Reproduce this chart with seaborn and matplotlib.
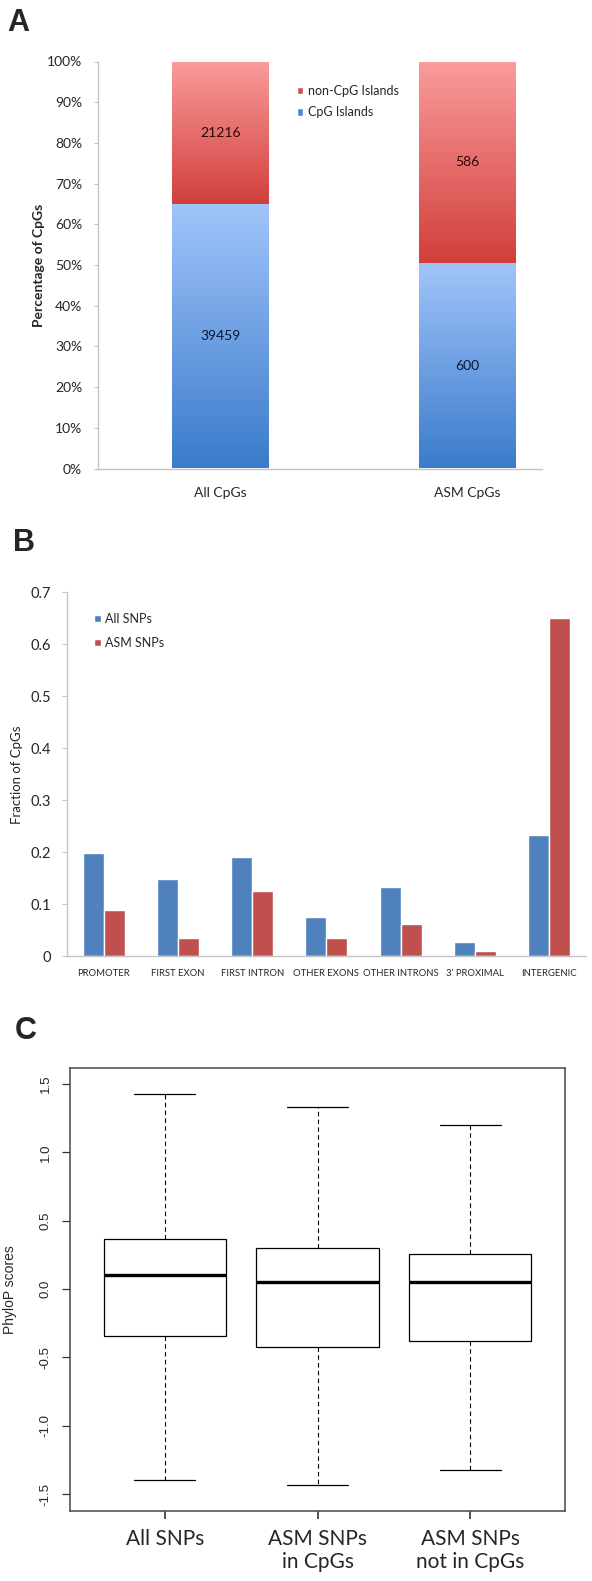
import matplotlib
matplotlib.use("Agg")
import matplotlib.pyplot as plt
import numpy as np
import pandas as pd
import seaborn as sns
from matplotlib.colors import LinearSegmentedColormap
from matplotlib.patches import Patch

# ---- data, panel A (CpG counts) ----
a_groups = ["All CpGs", "ASM CpGs"]
a_cpg_island = [39459, 600]
a_non_island = [21216, 586]

# ---- data, panel B (fraction per genomic region) ----
b_regions = ["PROMOTER", "FIRST EXON", "FIRST INTRON", "OTHER EXONS",
             "OTHER INTRONS", "3' PROXIMAL", "INTERGENIC"]
b_all_snps = [0.199, 0.148, 0.191, 0.076, 0.133, 0.028, 0.233]
b_asm_snps = [0.090, 0.036, 0.125, 0.035, 0.062, 0.011, 0.650]

# ---- data, panel C (five number summaries of PhyloP scores) ----
c_groups = ["All SNPs", "ASM SNPs\nin CpGs", "ASM SNPs\nnot in CpGs"]
c_min = [-1.40, -1.43, -1.32]
c_q1 = [-0.34, -0.42, -0.38]
c_med = [0.10, 0.055, 0.055]
c_q3 = [0.37, 0.30, 0.26]
c_max = [1.43, 1.33, 1.20]

# ---- style ----
sns.set_style("white")
plt.rcParams['font.family'] = ['Lato', 'DejaVu Sans']
W, H = 592, 1581
fig = plt.figure(figsize=(W / 100, H / 100), dpi=100)

def px_axes(left, top, right, bottom):
    return fig.add_axes([left / W, 1 - bottom / H, (right - left) / W, (bottom - top) / H])

def fill_gradient(ax, patch, top_col, bot_col, y0, y1):
    # swap flat bar fill for a vertical gradient clipped to the bar
    x0 = patch.get_x()
    w = patch.get_width()
    cmap = LinearSegmentedColormap.from_list("g", [bot_col, top_col])
    grad = np.linspace(0, 1, 256).reshape(-1, 1)
    im = ax.imshow(grad, extent=[x0, x0 + w, y0, y1], origin="lower", cmap=cmap,
                   aspect="auto", interpolation="bilinear", zorder=patch.get_zorder())
    im.set_clip_path(patch)
    patch.set_facecolor("none")
    patch.set_edgecolor("none")

grey = "#C4C4C4"
arial = ["Liberation Sans", "DejaVu Sans"]

# %% ---- panel A ----
axA = px_axes(97.5, 61.5, 542, 468.5)
totals = np.array(a_cpg_island) + np.array(a_non_island)
pct_island = 100 * np.array(a_cpg_island) / totals
dfA = pd.DataFrame({"group": a_groups, "total": 100.0, "island": pct_island})

sns.barplot(data=dfA, x="group", y="total", color="#E06060", width=0.393,
            saturation=1, ax=axA)
sns.barplot(data=dfA, x="group", y="island", color="#6699E0", width=0.393,
            saturation=1, ax=axA)

red_patches = axA.patches[:2]
blue_patches = axA.patches[2:4]
for i in range(2):
    fill_gradient(axA, red_patches[i], "#FA9C9B", "#D13F3C", pct_island[i], 100)
    fill_gradient(axA, blue_patches[i], "#A1C5FA", "#3B7BCB", 0, pct_island[i])
    axA.text(i, (pct_island[i] + 100) / 2, str(a_non_island[i]), ha="center",
             va="center", fontsize=10, color="#2a0808")
    axA.text(i, pct_island[i] / 2, str(a_cpg_island[i]), ha="center",
             va="center", fontsize=10, color="#0a1836")

axA.set_xlim(-0.5, 1.304)
axA.set_ylim(0, 100)
axA.set_yticks(np.arange(0, 101, 10))
axA.set_yticklabels([f"{v}%" for v in range(0, 101, 10)], fontsize=10)
axA.set_xticks([-0.5, 0.5], minor=True)
axA.tick_params(axis="x", which="major", length=0, pad=13, labelsize=10)
axA.tick_params(axis="x", which="minor", length=3, color=grey, direction="out")
axA.tick_params(axis="y", length=3, color=grey, direction="out", pad=8, left=True)
axA.set_xlabel("")
axA.set_ylabel("Percentage of CpGs", fontsize=10, fontweight="bold")
axA.yaxis.set_label_coords((45 - 97.5) / (542 - 97.5), 0.5)
for s in ["top", "right"]:
    axA.spines[s].set_visible(False)
for s in ["left", "bottom"]:
    axA.spines[s].set_color(grey)
    axA.spines[s].set_linewidth(1)

hA = [Patch(facecolor="#D8504E"), Patch(facecolor="#4A86D6")]
axA.legend(hA, ["non-CpG Islands", "CpG Islands"], loc="upper left",
           bbox_to_anchor=(296.5 / W, 1 - 85 / H), bbox_transform=fig.transFigure,
           frameon=False, fontsize=9, handlelength=0.55, handleheight=0.55,
           handletextpad=0.35, labelspacing=0.75, borderpad=0, borderaxespad=0)

# %% ---- panel B ----
axB = px_axes(66.7, 592.3, 586, 956.3)
dfB = pd.DataFrame({
    "region": b_regions * 2,
    "value": b_all_snps + b_asm_snps,
    "series": ["All SNPs"] * len(b_regions) + ["ASM SNPs"] * len(b_regions),
})
sns.barplot(data=dfB, x="region", y="value", hue="series",
            palette=["#4F81BD", "#C0504D"], width=0.566, saturation=1, ax=axB)
axB.set_xlim(-0.5, 6.5)
axB.set_ylim(0, 0.7)
yt = np.round(np.arange(0, 0.71, 0.1), 1)
axB.set_yticks(yt)
axB.set_yticklabels(["0"] + [f"{v:.1f}" for v in yt[1:]], fontsize=10.5)
axB.set_xticks(np.arange(-0.5, 6.6, 1), minor=True)
axB.tick_params(axis="x", which="major", length=0, pad=9, labelsize=6.8)
axB.tick_params(axis="x", which="minor", length=3, color=grey, direction="out")
axB.tick_params(axis="y", length=3.5, color=grey, direction="out", pad=7.5, left=True)
axB.set_xlabel("")
axB.set_ylabel("Fraction of CpGs", fontsize=9.5, color="#222222")
axB.yaxis.set_label_coords((23 - 66.7) / (586 - 66.7), 0.5)
for s in ["top", "right"]:
    axB.spines[s].set_visible(False)
for s in ["left", "bottom"]:
    axB.spines[s].set_color(grey)
    axB.spines[s].set_linewidth(1)
hB, lB = axB.get_legend_handles_labels()
axB.legend(hB, lB, loc="upper left",
           bbox_to_anchor=(94 / W, 1 - 613 / H), bbox_transform=fig.transFigure,
           frameon=False, fontsize=9, handlelength=0.55, handleheight=0.55,
           handletextpad=0.35, labelspacing=0.95, borderpad=0, borderaxespad=0)

# %% ---- panel C ----
axC = px_axes(70.3, 1068.4, 564.7, 1510.5)
rows = []
for g, lo, q1, md, q3, hi in zip(c_groups, c_min, c_q1, c_med, c_q3, c_max):
    for v in (lo, q1, md, q3, hi):
        rows.append({"group": g, "score": v})
dfC = pd.DataFrame(rows)
sns.boxplot(data=dfC, x="group", y="score", whis=(0, 100), width=0.8,
            color="white", saturation=1, linecolor="black", linewidth=0.9,
            showfliers=False, ax=axC,
            whiskerprops=dict(linestyle=(0, (4, 3)), linewidth=0.8),
            medianprops=dict(linewidth=2.4, color="black"),
            capprops=dict(linewidth=0.9))
axC.set_xlim(-0.62, 2.62)
axC.set_ylim(-1.62, 1.615)
yc = np.arange(-1.5, 1.51, 0.5)
axC.set_yticks(yc)
axC.set_yticklabels([f"{v:.1f}" for v in yc], rotation=90, va="center",
                    fontsize=9.5, family=arial)
axC.tick_params(axis="y", length=5.8, width=0.9, color="#333333", direction="out",
                pad=7.5, left=True)
axC.tick_params(axis="x", length=5.8, width=1.2, color="#333333", direction="out",
                pad=7.5, bottom=True, labelsize=15)
for lab in axC.get_xticklabels():
    lab.set_linespacing(1.2)
axC.set_xlabel("")
axC.set_ylabel("PhyloP scores", fontsize=10, family=arial)
axC.yaxis.set_label_coords((17 - 70.3) / (564.7 - 70.3), 0.5)
for s in axC.spines.values():
    s.set_visible(True)
    s.set_color("#555555")
    s.set_linewidth(1.2)

# ---- panel letters ----
for letter, x, y in [("A", 7, 8), ("B", 13, 528), ("C", 15, 1016)]:
    fig.text(x / W, 1 - y / H, letter, fontsize=22, fontweight="bold", va="top",
             ha="left", family=arial)

fig.savefig("out.png", dpi=100)
